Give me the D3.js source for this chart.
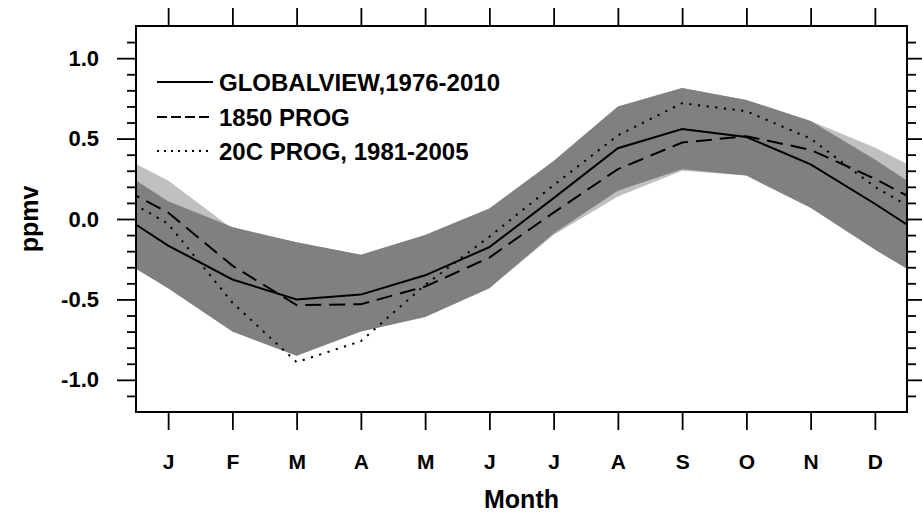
<!DOCTYPE html>
<html><head><meta charset="utf-8">
<script src="https://cdn.jsdelivr.net/npm/d3@7"></script>
<style>body{margin:0;background:#fff}</style>
</head><body>
<svg id="c" width="922" height="513"></svg>
<script>
const months = ["J","F","M","A","M","J","J","A","S","O","N","D"];
const globalview = [-0.165, -0.376, -0.50, -0.47, -0.35, -0.175, 0.13, 0.44, 0.56, 0.51, 0.34, 0.095];
const prog1850   = [0.04, -0.29, -0.535, -0.53, -0.42, -0.24, 0.04, 0.31, 0.475, 0.515, 0.43, 0.25];
const prog20c    = [-0.03, -0.52, -0.89, -0.76, -0.41, -0.11, 0.21, 0.52, 0.72, 0.67, 0.50, 0.20];
const darkUpper  = [0.11, -0.05, -0.145, -0.223, -0.10, 0.066, 0.36, 0.70, 0.815, 0.74, 0.61, 0.37];
const darkLower  = [-0.43, -0.70, -0.85, -0.70, -0.61, -0.43, -0.09, 0.175, 0.31, 0.27, 0.07, -0.19];
const lightUpper = [0.24, -0.06, -0.145, -0.223, -0.10, 0.066, 0.36, 0.70, 0.815, 0.74, 0.61, 0.445];
const lightLower = [-0.43, -0.70, -0.85, -0.70, -0.61, -0.43, -0.10, 0.14, 0.30, 0.27, 0.07, -0.19];
const yTicks = [-1.0, -0.5, 0.0, 0.5, 1.0];
const yTickLabels = ["-1.0", "-0.5", "0.0", "0.5", "1.0"];
const yMinorTicks = [-1.1,-0.9,-0.8,-0.7,-0.6,-0.4,-0.3,-0.2,-0.1,0.1,0.2,0.3,0.4,0.6,0.7,0.8,0.9,1.1];
const legendLabels = ["GLOBALVIEW,1976-2010", "1850 PROG", "20C PROG, 1981-2005"];
const xTitle = "Month", yTitle = "ppmv";

const L = 136, R = 907, T = 26, B = 412;
const FONT = "'Liberation Sans', Arial, Helvetica, sans-serif";
const svg = d3.select("#c");
const x = d3.scaleLinear().domain([-0.5, 11.5]).range([L, R]);
const y = d3.scaleLinear().domain([-1.2, 1.2]).range([B, T]);

// cyclic wrap: Dec before Jan, Jan after Dec
function wrap(arr) {
  const out = [{i: -1, v: arr[11]}];
  arr.forEach((v, i) => out.push({i, v}));
  out.push({i: 12, v: arr[0]});
  return out;
}
function wrapBand(up, lo) {
  const u = wrap(up), l = wrap(lo);
  return u.map((d, k) => ({i: d.i, hi: d.v, lo: l[k].v}));
}

svg.append("defs").append("clipPath").attr("id", "clip")
  .append("rect").attr("x", L).attr("y", T).attr("width", R - L).attr("height", B - T);

const g = svg.append("g").attr("clip-path", "url(#clip)");
const area = d3.area().x(d => x(d.i)).y0(d => y(d.lo)).y1(d => y(d.hi));
g.append("path").datum(wrapBand(lightUpper, lightLower)).attr("d", area).attr("fill", "#c0c0c0");
g.append("path").datum(wrapBand(darkUpper, darkLower)).attr("d", area).attr("fill", "#808080");

const line = d3.line().x(d => x(d.i)).y(d => y(d.v));
const styles = [
  {data: globalview, dash: null},
  {data: prog1850, dash: "16,8"},
  {data: prog20c, dash: "2.2,6.5"}
];
styles.forEach(s => {
  g.append("path").datum(wrap(s.data)).attr("d", line)
    .attr("fill", "none").attr("stroke", "#000").attr("stroke-width", 2)
    .attr("stroke-dasharray", s.dash);
});

// axes
function styleAxis(sel) {
  sel.select(".domain").remove();
  sel.selectAll(".tick line").attr("stroke", "#000").attr("stroke-width", 1.8);
  sel.selectAll("text").attr("font-family", FONT).attr("font-weight", "bold").attr("fill", "#000");
}
svg.append("g").attr("transform", `translate(${L},0)`)
  .call(d3.axisLeft(y).tickValues(yTicks).tickSize(19).tickPadding(18).tickFormat((d, i) => yTickLabels[i]))
  .call(styleAxis).selectAll("text").attr("font-size", 22);
svg.append("g").attr("transform", `translate(${L},0)`)
  .call(d3.axisLeft(y).tickValues(yMinorTicks).tickSize(9).tickFormat("")).call(styleAxis);
svg.append("g").attr("transform", `translate(${R},0)`)
  .call(d3.axisRight(y).tickValues(yTicks).tickSize(19).tickFormat("")).call(styleAxis);
svg.append("g").attr("transform", `translate(${R},0)`)
  .call(d3.axisRight(y).tickValues(yMinorTicks).tickSize(9).tickFormat("")).call(styleAxis);
svg.append("g").attr("transform", `translate(0,${T})`)
  .call(d3.axisTop(x).tickValues(d3.range(12)).tickSize(18).tickFormat("")).call(styleAxis);
svg.append("g").attr("transform", `translate(0,${B})`)
  .call(d3.axisBottom(x).tickValues(d3.range(12)).tickSize(18).tickPadding(24).tickFormat((d) => months[d]))
  .call(styleAxis).selectAll("text").attr("font-size", 21);

// frame
svg.append("rect").attr("x", L).attr("y", T).attr("width", R - L).attr("height", B - T)
  .attr("fill", "none").attr("stroke", "#000").attr("stroke-width", 2);

// titles
svg.append("text").attr("x", (L + R) / 2).attr("y", 508).attr("text-anchor", "middle")
  .attr("font-family", FONT).attr("font-size", 25).attr("font-weight", "bold").text(xTitle);
svg.append("text").attr("transform", `translate(38,${(T + B) / 2}) rotate(-90)`).attr("text-anchor", "middle")
  .attr("font-family", FONT).attr("font-size", 25).attr("font-weight", "bold").text(yTitle);

// legend
const legY = [82, 117, 151];
const legDash = [null, "10,4", "2,5"];
legendLabels.forEach((t, k) => {
  svg.append("line").attr("x1", 157).attr("x2", 213).attr("y1", legY[k]).attr("y2", legY[k])
    .attr("stroke", "#000").attr("stroke-width", 2).attr("stroke-dasharray", legDash[k]);
  svg.append("text").attr("x", 219).attr("y", legY[k]).attr("dy", "0.36em")
    .attr("font-family", FONT).attr("font-size", 24).attr("font-weight", "bold").text(t);
});
</script>
</body></html>
